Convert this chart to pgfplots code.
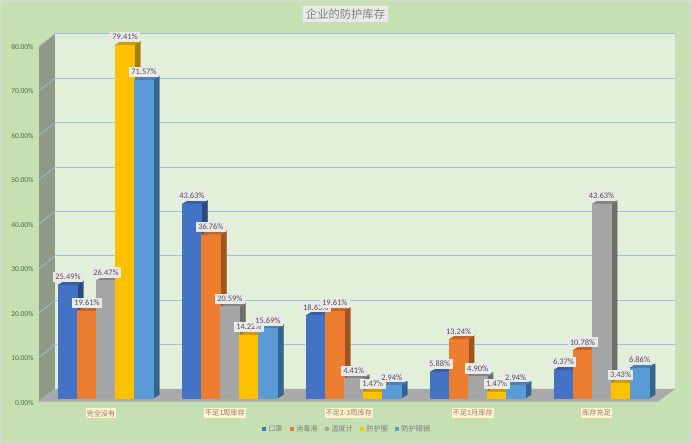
\documentclass[border=0pt]{standalone}
\usepackage{pgfplots}
\usepackage{pgfplotstable}
\usepackage{fontspec}
\pgfplotsset{compat=1.18}
\setmainfont{Carlito}
\newfontfamily\cjk{Noto Sans CJK SC}
\pgfdeclareplotmark{emptymark}{}
\definecolor{bgc}{HTML}{C6E0B4}
\definecolor{wallc}{HTML}{E2F0D9}
\definecolor{sidewall}{HTML}{8E9A85}
\definecolor{floorc}{HTML}{A9A9A9}
\definecolor{gridc}{HTML}{A0BFE0}
\definecolor{txt}{HTML}{7F7F7F}
\definecolor{lab}{HTML}{505050}
\definecolor{labbg}{HTML}{E9E9E9}
\definecolor{catbg}{HTML}{FFF2CC}
\definecolor{cA}{HTML}{4472C4}\definecolor{cAs}{HTML}{2A4A82}\definecolor{cAt}{HTML}{375FA8}
\definecolor{cB}{HTML}{ED7D31}\definecolor{cBs}{HTML}{9E541F}\definecolor{cBt}{HTML}{C56526}
\definecolor{cC}{HTML}{A5A5A5}\definecolor{cCs}{HTML}{6E6E6E}\definecolor{cCt}{HTML}{868686}
\definecolor{cD}{HTML}{FFC000}\definecolor{cDs}{HTML}{A67C00}\definecolor{cDt}{HTML}{CF9C00}
\definecolor{cE}{HTML}{5B9BD5}\definecolor{cEs}{HTML}{35648F}\definecolor{cEt}{HTML}{4A80B2}
\pgfplotstableread{
x mask dis therm suit gog
0 25.49 19.61 26.47 79.41 71.57
1 43.63 36.76 20.59 14.22 15.69
2 18.63 19.61 4.41 1.47 2.94
3 5.88 13.24 4.90 1.47 2.94
4 6.37 10.78 43.63 3.43 6.86
}\datatab
\pgfplotsset{
  side3d/.style n args={4}{forget plot, only marks, mark=emptymark, scatter,
    visualization depends on={y \as \rawy},
    scatter/@pre marker code/.code={%
      \pgfmathsetmacro\hh{\rawy*4.45}%
      \pgfmathsetmacro\sl{#3-9.5}\pgfmathsetmacro\sr{#3+9.5}%
      \pgfmathsetmacro\slb{#3-3.5}\pgfmathsetmacro\srb{#3+15.5}%
      \fill[#1] (\sr pt,0pt) -- (\srb pt,3.7pt) -- ({\srb pt},{3.7pt-\hh pt}) -- ({\sr pt},{-\hh pt}) -- cycle;
      \fill[#2] (\sl pt,0pt) -- (\slb pt,3.7pt) -- (\srb pt,3.7pt) -- (\sr pt,0pt) -- cycle;
      \fill[#4] (\sl pt,0pt) rectangle (\sr pt,{-\hh pt});
    },
    scatter/@post marker code/.code={}},
  keyleg/.style={legend image code/.code={\fill[##1] (0pt,-2.2pt) rectangle (4.5pt,2.2pt);}},
  barlab/.style={forget plot, draw=none, no markers, point meta=y,
    nodes near coords={\textcolor{lab}{\pgfmathprintnumber[fixed,fixed zerofill,precision=2,assume math mode=true]{\pgfplotspointmeta}\%}},
    nodes near coords style={font=\fontsize{8.4}{9}\selectfont, fill=labbg, inner xsep=2.4pt, inner ysep=2.2pt, anchor=center, xshift=#1, yshift=8pt}},
}
\newcommand\series[6]{%
  \addplot[ybar, keyleg, bar width=19pt, bar shift=#5pt, fill=#2, draw=none] table[x=x,y=#1]{\datatab};
  \addlegendentry{\cjk #6}
  \addplot[side3d={#3}{#4}{#5}{#2}] table[x=x,y=#1]{\datatab};
}
\begin{document}
\begin{tikzpicture}
\path[use as bounding box] (0,0) rectangle (691pt,443pt);
\fill[bgc,draw=black!15,line width=0.8pt] (0.4pt,0.4pt) rectangle (690.6pt,442.6pt);
% side wall
\begin{scope}[x=1pt,y=-1pt,yshift=443pt]
\fill[sidewall] (39,46.3) -- (55,33.7) -- (55,389) -- (39,401.7) -- cycle;
\foreach \v in {0,10,...,80}{
  \draw[gridc,line width=0.7pt] (39,{401.7-\v*4.44}) -- (55,{389-\v*4.44});
}
\end{scope}
% back wall
\begin{axis}[name=wall, at={(55pt,54pt)}, anchor=south west, scale only axis,
  width=620pt, height=355.3pt, xmin=0, xmax=1, ymin=0, ymax=80,
  axis line style={draw=none}, tick style={draw=none},
  xtick=\empty, ytick={0,10,...,80}, yticklabels=\empty,
  ymajorgrids, grid style={gridc,line width=0.8pt},
  axis background/.style={fill=wallc}]
\addplot[draw=none,forget plot] coordinates {(0,0) (1,80)};
\end{axis}
% floor
\begin{scope}[x=1pt,y=-1pt,yshift=443pt]
\fill[floorc] (39,401.7) -- (658,401.7) -- (675,389) -- (55,389) -- cycle;
\end{scope}
% bars
\begin{axis}[at={(44pt,44.7pt)}, anchor=south west, scale only axis, clip=false,
  width=619.5pt, height=356pt, xmin=-0.5, xmax=4.5, ymin=0, ymax=80,
  axis line style={draw=none}, tick style={draw=none}, tick align=outside,
  xtick={0,1,2,3,4},
  xticklabels={完全没有,不足1周库存,不足2-3周库存,不足1月库存,库存充足},
  xticklabel style={font=\cjk\fontsize{7.2}{8}\selectfont, text=txt!85!orange, fill=catbg, inner xsep=1pt, inner ysep=1.5pt, anchor=center, xshift=-5pt, yshift=-10.7pt},
  ytick={0,10,...,80},
  yticklabel={\pgfmathprintnumber[fixed,fixed zerofill,precision=2,assume math mode=true]{\tick}\%},
  yticklabel style={font=\fontsize{7.4}{8}\selectfont, text=txt!85!green!70!black, anchor=east, inner sep=0pt, xshift=-6pt, yshift=-4.4pt},
  legend columns=5,
  legend style={at={(303pt,-31pt)}, anchor=center, draw=none, fill=none, font=\fontsize{7.2}{8}\selectfont, text=txt,
    inner sep=0pt, /tikz/every even column/.append style={column sep=5pt}},
]
\series{mask}{cA}{cAs}{cAt}{-38}{口罩}
\series{dis}{cB}{cBs}{cBt}{-19}{消毒液}
\series{therm}{cC}{cCs}{cCt}{0}{温度计}
\series{suit}{cD}{cDs}{cDt}{19}{防护服}
\series{gog}{cE}{cEs}{cEt}{38}{防护眼镜}
\addplot[barlab=-38pt] table[x=x,y=mask]{\datatab};
\addplot[barlab=-19pt] table[x=x,y=dis]{\datatab};
\addplot[barlab=0pt] table[x=x,y=therm]{\datatab};
\addplot[barlab=19pt] table[x=x,y=suit]{\datatab};
\addplot[barlab=38pt] table[x=x,y=gog]{\datatab};
\end{axis}
\node[fill=labbg, text=txt, font=\cjk\fontsize{11.3}{12}\selectfont, inner xsep=3pt, inner ysep=2.5pt, anchor=center] at (345.5pt,429pt) {企业的防护库存};
\end{tikzpicture}
\end{document}
